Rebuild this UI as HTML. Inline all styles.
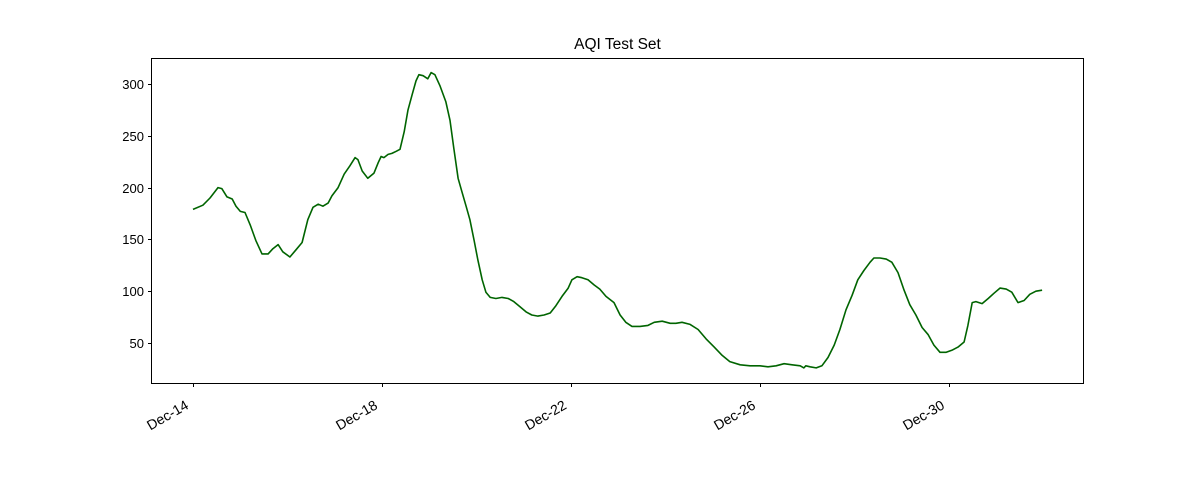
<!DOCTYPE html>
<html><head><meta charset="utf-8"><style>
body{margin:0;background:#fff;}
svg text{font-family:"Liberation Sans","DejaVu Sans",sans-serif;font-size:13px;fill:#000;}
</style></head><body>
<svg id="chart" width="1204" height="480">
<rect width="1204" height="480" fill="#fff"/>
<text x="617.5" y="49" text-anchor="middle" style="font-size:15.5px">AQI Test Set</text>
<g id="axes"></g>
<rect x="151.5" y="58.5" width="932" height="325" fill="none" stroke="#000" stroke-width="1"/>
</svg>
<script>
const days=[0,0.21,0.36,0.53,0.61,0.72,0.83,0.91,1.0,1.1,1.21,1.33,1.46,1.59,1.69,1.8,1.9,2.05,2.18,2.31,2.43,2.54,2.65,2.75,2.86,2.94,3.07,3.2,3.32,3.43,3.49,3.58,3.7,3.83,3.92,3.98,4.04,4.13,4.21,4.3,4.38,4.47,4.55,4.64,4.72,4.78,4.87,4.97,5.04,5.12,5.23,5.35,5.44,5.52,5.61,5.69,5.78,5.86,5.95,6.03,6.12,6.2,6.29,6.41,6.54,6.67,6.79,6.92,7.05,7.17,7.3,7.43,7.56,7.68,7.81,7.94,8.02,8.13,8.23,8.36,8.49,8.61,8.74,8.91,9.04,9.16,9.29,9.46,9.63,9.76,9.93,10.1,10.22,10.35,10.52,10.69,10.86,11.03,11.2,11.36,11.58,11.79,12.0,12.17,12.34,12.51,12.68,12.85,12.93,12.97,13.06,13.19,13.31,13.44,13.57,13.69,13.82,13.95,14.07,14.2,14.33,14.41,14.54,14.67,14.79,14.92,15.05,15.17,15.3,15.43,15.56,15.68,15.81,15.94,16.06,16.19,16.32,16.4,16.49,16.57,16.7,16.83,16.95,17.08,17.21,17.33,17.46,17.59,17.71,17.84,17.97];
const aqi=[179,183,190,200,199,191,189,182,177,176,164,149,136,136,141,145,138,133,140,147,169,181,184,182,185,192,200,213,221,229,227,216,209,214,224,230,229,232,233,235,237,254,275,290,303,309,308,305,311,309,298,283,265,238,209,196,182,169,149,130,111,99,94,93,94,93,90,85,80,77,76,77,79,86,95,103,111,114,113,111,106,102,95,89,77,70,66,66,67,70,71,69,69,70,68,63,54,46,38,32,29,28,28,27,28,30,29,28,26,28,27,26,28,36,48,63,82,96,111,120,128,132,132,131,128,118,101,87,77,65,58,48,41,41,43,46,51,67,89,90,88,93,98,103,102,99,89,91,97,100,101];
const yTicks=[50,100,150,200,250,300];
const xTickDays=[0,4,8,12,16];
const xTickLabels=["Dec-14","Dec-18","Dec-22","Dec-26","Dec-30"];
const X=d=>193+d*47.25;
const Y=v=>343-(v-50)*1.036;
const ns="http://www.w3.org/2000/svg";
const g=document.getElementById('axes');
function mk(t,a){const e=document.createElementNS(ns,t);for(const k in a)e.setAttribute(k,a[k]);g.appendChild(e);return e;}
yTicks.forEach(v=>{
  const y=Math.round(Y(v))+0.5;
  const t=mk('line',{x1:148,x2:151.5,y1:y,y2:y,stroke:'#000'});
  
  
  const l=mk('text',{x:144,y:y+4.5,'text-anchor':'end'});
  l.textContent=v;
  
  
});
xTickDays.forEach((d,i)=>{
  const x=Math.round(X(d))+0.5;
  const t=mk('line',{x1:x,x2:x,y1:383.5,y2:387,stroke:'#000'});
  
  
  const l=mk('text',{x:0,y:0,'text-anchor':'end',style:'font-size:14px',transform:`translate(${x-4},${408}) rotate(-30)`});
  l.textContent=xTickLabels[i];
  
  
});
const pts=days.map((d,i)=>X(d).toFixed(1)+','+Y(aqi[i]).toFixed(1)).join(' ');
const line=mk('polyline',{points:pts,fill:'none',stroke:'#006400','stroke-width':1.6,'stroke-linejoin':'round'});


</script>
</body></html>
